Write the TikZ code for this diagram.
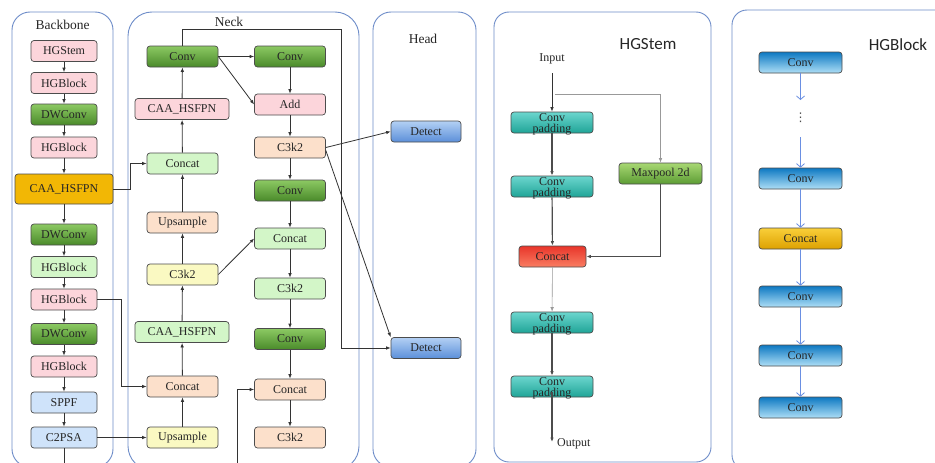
\documentclass[tikz,border=0pt]{standalone}
\usepackage{fontspec}
\setmainfont{Liberation Serif}
\newfontfamily\titlesans{Carlito}
\newfontfamily\symfont{DejaVu Sans}
\usetikzlibrary{arrows.meta}

\definecolor{panelc}{HTML}{6E8DC9}
\definecolor{pinkc}{HTML}{FCD5DB}
\definecolor{lgreenc}{HTML}{D3F6C8}
\definecolor{peachc}{HTML}{FCE0CB}
\definecolor{yellowc}{HTML}{FAF9C2}
\definecolor{lbluec}{HTML}{CFE3FA}
\definecolor{goldc}{HTML}{F2B705}
\definecolor{grnT}{HTML}{8CC963}
\definecolor{grnB}{HTML}{4A8A2A}
\definecolor{detT}{HTML}{B3D0F4}
\definecolor{detB}{HTML}{5B8FD9}
\definecolor{tealT}{HTML}{6CD6CE}
\definecolor{tealB}{HTML}{1FA497}
\definecolor{redT}{HTML}{E8352A}
\definecolor{redB}{HTML}{F97D62}
\definecolor{mpT}{HTML}{A8D873}
\definecolor{mpB}{HTML}{5C9C34}
\definecolor{hbT}{HTML}{0D78C2}
\definecolor{hbB}{HTML}{AEDFF6}
\definecolor{hgT}{HTML}{F9CF3A}
\definecolor{hgB}{HTML}{DDA100}
\definecolor{flowblue}{HTML}{6A8FE2}

\newcommand\boxfont{\fontsize{12}{12}\selectfont}
\newcommand\padfont{\fontsize{12}{11}\selectfont}

\tikzset{
  panel/.style={draw=panelc, line width=0.9pt, rounded corners=18pt},
  box/.style={draw=black!70, line width=0.7pt, rounded corners=3pt,
    minimum height=21pt, inner sep=0pt, text=black!85, font=\boxfont},
  bb/.style={box, minimum width=66pt},
  nk/.style={box, minimum width=71pt},
  grn/.style={top color=grnT, bottom color=grnB},
  det/.style={box, minimum width=70pt, top color=detT, bottom color=detB},
  padbox/.style={box, minimum width=82pt, top color=tealT, bottom color=tealB,
    label={[align=center, font=\padfont, text=black!85, inner sep=0pt, yshift=-1.5pt]center:Conv\\padding}},
  hbconv/.style={box, minimum width=83pt, top color=hbT, bottom color=hbB},
  ttl/.style={font=\fontsize{13.5}{13.5}\selectfont, text=black!85},
  sttl/.style={font=\titlesans\fontsize{17}{17}\selectfont, text=black!85},
  ar/.style={draw=black!80, line width=0.8pt, -{Latex[length=4.5pt,width=3.5pt]}},
  arthick/.style={ar, line width=1.2pt, draw=black!70},
  argray/.style={ar, draw=black!40, line width=0.6pt},
  arblue/.style={draw=flowblue, line width=0.8pt, -{Straight Barb[length=3.5pt,width=8pt]}},
}

\begin{document}
\begin{tikzpicture}[x=1pt,y=-1pt]
\clip (0,0) rectangle (935,463);
\fill[white] (0,0) rectangle (935,463);

% ---------- panels ----------
\draw[panel] (12,12) rectangle (113,467);
\draw[panel, rounded corners=24pt] (128,12) rectangle (359,470);
\draw[panel] (373,12) rectangle (476,467);
\draw[panel, rounded corners=15pt] (494,12) rectangle (711,462);
\draw[panel, rounded corners=15pt] (732,10) rectangle (955,470);

\node[ttl] (tback) at (62.5,25) {Backbone};
\node[ttl] (tneck) at (229,21.5) {Neck};
\node[ttl] (thead) at (423,39) {Head};
\node[sttl] (tstem) at (648,44) {HGStem};
\node[sttl] (tblock) at (898,45) {HGBlock};

% ---------- backbone ----------
\node[bb, fill=pinkc] (bstem) at (64,51) {HGStem};
\node[bb, fill=pinkc] (bhg1) at (64,83) {HGBlock};
\node[bb, grn] (bdw1) at (64,114.5) {DWConv};
\node[bb, fill=pinkc] (bhg2) at (64,147.5) {HGBlock};
\node[box, fill=goldc, minimum width=98pt, minimum height=30pt] (bcaa) at (64,189) {CAA\_HSFPN};
\node[bb, grn] (bdw2) at (64,234.5) {DWConv};
\node[bb, fill=lgreenc] (bhg3) at (64,267) {HGBlock};
\node[bb, fill=pinkc] (bhg4) at (64,299.5) {HGBlock};
\node[bb, grn] (bdw3) at (64,334) {DWConv};
\node[bb, fill=pinkc] (bhg5) at (64,366.5) {HGBlock};
\node[bb, fill=lbluec] (bsppf) at (64,402.5) {SPPF};
\node[bb, fill=lbluec] (bc2) at (64,437.5) {C2PSA};
\coordinate (bend) at (64,470);

\foreach \a/\b in {bstem/bhg1, bhg1/bdw1, bdw1/bhg2, bhg2/bcaa, bcaa/bdw2,
  bdw2/bhg3, bhg3/bhg4, bhg4/bdw3, bdw3/bhg5, bhg5/bsppf, bsppf/bc2}
  \draw[ar] (\a) -- (\b);
\draw[draw=black!80, line width=0.8pt] (bc2.south) -- (bend);

% ---------- neck, left column ----------
\node[nk, grn] (nconv1) at (182.5,56.5) {Conv};
\node[box, fill=pinkc, minimum width=94pt] (ncaa1) at (182,109) {CAA\_HSFPN};
\node[nk, fill=lgreenc] (ncat1) at (182.5,163.5) {Concat};
\node[nk, fill=peachc] (nup1) at (182.5,222.5) {Upsample};
\node[nk, fill=yellowc] (nc3a) at (182.5,274.5) {C3k2};
\node[box, fill=lgreenc, minimum width=94pt] (ncaa2) at (182,332) {CAA\_HSFPN};
\node[nk, fill=peachc] (ncat2) at (182.5,386.5) {Concat};
\node[nk, fill=yellowc] (nup2) at (182.5,437.5) {Upsample};

% ---------- neck, right column ----------
\node[nk, grn] (nconv2) at (290,56.5) {Conv};
\node[nk, fill=pinkc] (nadd) at (290,104.5) {Add};
\node[nk, fill=peachc] (nc3b) at (290,147.5) {C3k2};
\node[nk, grn] (nconv3) at (290,190.5) {Conv};
\node[nk, fill=lgreenc] (ncat3) at (290,238.5) {Concat};
\node[nk, fill=lgreenc] (nc3c) at (290,288.5) {C3k2};
\node[nk, grn] (nconv4) at (290,339) {Conv};
\node[nk, fill=peachc] (ncat4) at (290,389.5) {Concat};
\node[nk, fill=peachc] (nc3d) at (290,437.5) {C3k2};

% ---------- head ----------
\node[det] (det1) at (426,131.5) {Detect};
\node[det] (det2) at (426,348) {Detect};

% ---------- neck connectors ----------
\foreach \a/\b in {nup2/ncat2, ncat2/ncaa2, ncaa2/nc3a, nc3a/nup1, nup1/ncat1,
  ncat1/ncaa1, ncaa1/nconv1}
  \draw[ar] (\a) -- (\b);
\foreach \a/\b in {nconv2/nadd, nadd/nc3b, nc3b/nconv3, nconv3/ncat3,
  ncat3/nc3c, nc3c/nconv4, nconv4/ncat4, ncat4/nc3d}
  \draw[ar] (\a) -- (\b);

\draw[ar] (bcaa.east) -- ++(17,0) |- (ncat1.west);
\draw[ar] (bhg4.east) -- ++(24,0) |- (ncat2.west);
\draw[ar] (bc2.east) -- (nup2.west);

\draw[ar] (nconv1.east) -- (nconv2.west);
\draw[ar] (nconv1.east) -- (nadd.west);
\draw[ar] (nc3a.east) -- (ncat3.west);

\coordinate (nin) at (237,470);
\draw[ar] (nin) |- (ncat4.west);

\coordinate (loopc) at (341,29);
\draw[ar] (nconv1.north) |- (loopc) |- (det2.west);
\draw[ar] (nc3b.east) -- (det1.west);
\draw[ar] ([yshift=-3pt]nc3b.east) -- (det2.north west);

% ---------- HGStem ----------
\node[font=\boxfont, text=black!85, inner sep=0pt] (sin) at (552,59) {Input};
\coordinate (sinl) at (552,73);
\coordinate (sbr) at (555,94);
\node[padbox] (sp1) at (552,122.5) {};
\node[padbox] (sp2) at (552,186.5) {};
\node[box, minimum width=83pt, top color=mpT, bottom color=mpB] (smp) at (660.5,173.5) {Maxpool 2d};
\node[box, minimum width=67pt, top color=redT, bottom color=redB] (scat) at (552.5,256.5) {Concat};
\node[padbox] (sp3) at (552,322.5) {};
\node[padbox] (sp4) at (552,386.5) {};
\coordinate (soutp) at (552,442);
\node[font=\boxfont, text=black!85, inner sep=0pt, anchor=west] (sout) at (557,443.5) {Output};

\draw[ar] (sinl) -- (sp1.north);
\draw[argray] (sbr) -| (smp.north);
\draw[arthick] (sp1) -- (sp2);
\draw[arthick] (sp2) -- (scat);
\draw[arthick] (smp.south) |- (scat.east);
\draw[argray] (scat) -- (sp3);
\draw[arthick] (sp3) -- (sp4);
\draw[arthick] ([yshift=5pt]sp4.south) -- (soutp);

% ---------- HGBlock ----------
\node[hbconv] (g1) at (800.5,62.5) {Conv};
\coordinate (gd1) at (800.5,100);
\node[font=\symfont\fontsize{12}{12}\selectfont, text=black!70, inner sep=0pt] (gdots) at (800.5,118) {⋮};
\coordinate (gd2) at (800.5,137);
\node[hbconv] (g2) at (800.5,178.5) {Conv};
\node[box, minimum width=83pt, top color=hgT, bottom color=hgB] (g3) at (800.5,238.5) {Concat};
\node[hbconv] (g4) at (800.5,296.5) {Conv};
\node[hbconv] (g5) at (800.5,355.5) {Conv};
\node[hbconv] (g6) at (800.5,407.5) {Conv};

\draw[arblue] (g1.south) -- (gd1);
\draw[arblue] (gd2) -- (g2.north);
\foreach \a/\b in {g2/g3, g3/g4, g4/g5, g5/g6}
  \draw[arblue] (\a) -- (\b);
\end{tikzpicture}
\end{document}
